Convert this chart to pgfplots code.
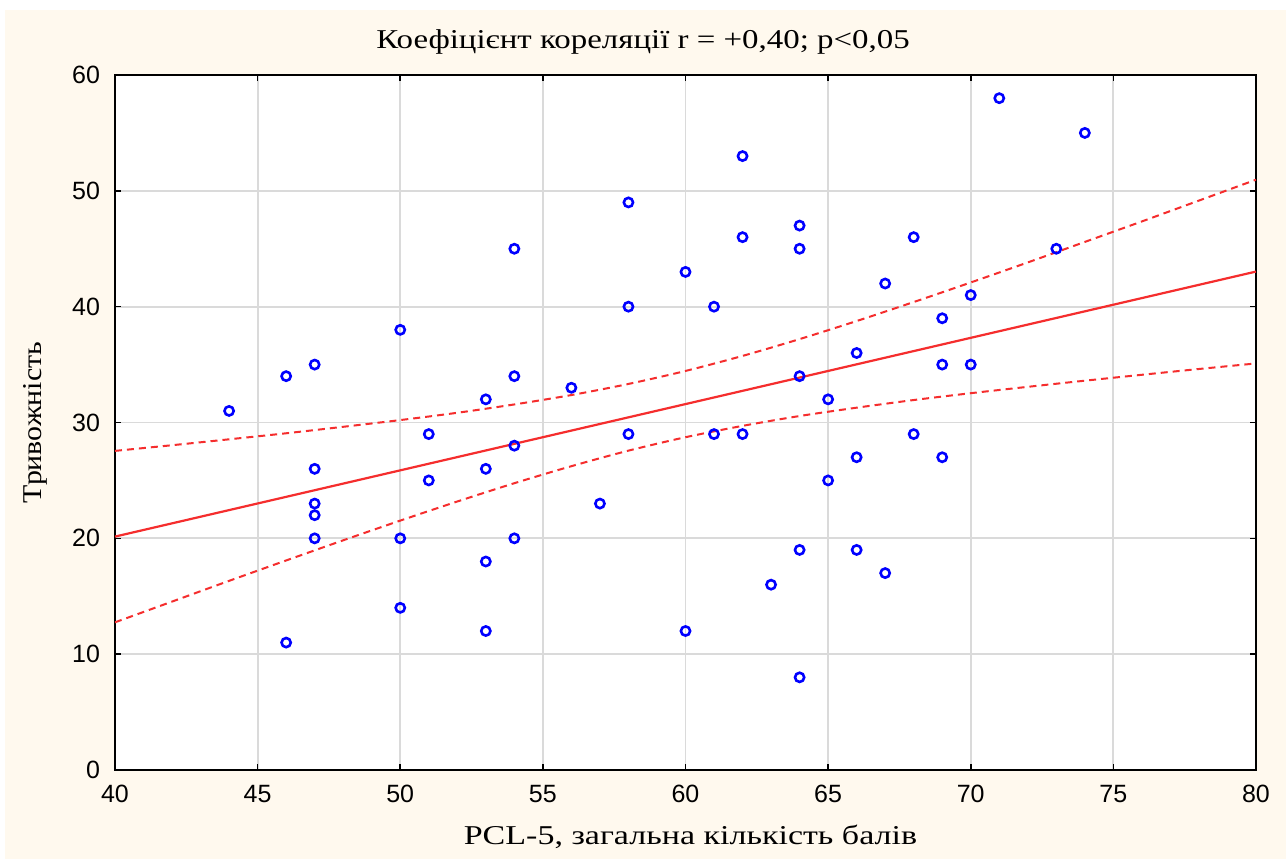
\documentclass[border=0pt]{standalone}
\usepackage{fontspec}
\setmainfont{Liberation Serif}
\setsansfont{Liberation Sans}
\usepackage{graphicx}
\usepackage{pgfplots}
\pgfplotsset{compat=1.18}
\definecolor{cream}{RGB}{255,249,238}
\definecolor{fitred}{RGB}{245,45,45}
\definecolor{gridgray}{RGB}{218,218,218}

\begin{document}
\begin{tikzpicture}
\fill[white] (-57.5pt,-44.5pt) rectangle (585.5pt,385pt);
\fill[cream] (-55pt,-44.5pt) rectangle (585.5pt,380pt);
\useasboundingbox (-57.5pt,-44.5pt) rectangle (585.5pt,385pt);
\begin{axis}[
    at={(0,0)}, anchor=south west,
    scale only axis,
    width=570.5pt, height=347.5pt,
    xmin=40, xmax=80,
    ymin=0, ymax=60,
    xtick={40,45,...,80},
    ytick={0,10,...,60},
    grid=major,
    major grid style={gridgray, line width=0.9pt},
    axis line style={line width=1pt},
    tick style={black, line width=0.8pt},
    major tick length=3pt,
    tick align=inside,
    axis background/.style={fill=white},
    ticklabel style={font=\sffamily\fontsize{12.5}{14}\selectfont},
    /pgf/number format/assume math mode=true,
    xticklabel style={anchor=north, yshift=-4pt},
    yticklabel style={anchor=east, xshift=-4pt},
    clip mode=individual,
]

% confidence band, upper
\addplot[fitred, line width=1pt, dash pattern=on 3.5pt off 2.5pt, smooth] coordinates {
    (40,27.55)(42,28.04)(44,28.55)(46,29.07)(48,29.63)(50,30.21)(52,30.84)
    (54,31.56)(56,32.37)(58,33.33)(60,34.45)(62,35.75)(64,37.20)(66,38.76)
    (68,40.40)(70,42.09)(72,43.82)(74,45.59)(76,47.36)(78,49.16)(80,50.96)
};
% confidence band, lower
\addplot[fitred, line width=1pt, dash pattern=on 3.5pt off 2.5pt, smooth] coordinates {
    (40,12.75)(42,14.54)(44,16.33)(46,18.09)(48,19.83)(50,21.53)(52,23.18)
    (54,24.76)(56,26.23)(58,27.57)(60,28.73)(62,29.71)(64,30.56)(66,31.28)
    (68,31.94)(70,32.53)(72,33.08)(74,33.61)(76,34.12)(78,34.62)(80,35.10)
};
% regression line
\addplot[fitred, line width=1.1pt] coordinates {(40,20.15)(80,43.03)};

% observations
\addplot[only marks, mark=o, mark size=2.3pt, blue, mark options={line width=1.3pt}] coordinates {
    (44,31)(46,34)(46,11)(47,35)(47,26)(47,23)(47,22)(47,20)
    (50,38)(50,20)(50,14)(51,29)(51,25)
    (53,32)(53,26)(53,18)(53,12)
    (54,45)(54,34)(54,28)(54,20)
    (56,33)(57,23)(58,49)(58,40)(58,29)
    (60,43)(60,12)(61,40)(61,29)
    (62,53)(62,46)(62,29)(63,16)
    (64,47)(64,45)(64,34)(64,19)(64,8)
    (65,32)(65,25)(66,36)(66,27)(66,19)
    (67,42)(67,17)(68,46)(68,29)
    (69,39)(69,35)(69,27)(70,41)(70,35)
    (71,58)(73,45)(74,55)
};

\node[font=\fontsize{13.6}{15}\selectfont] at (rel axis cs:0.4628,1) [yshift=16.5pt] {\scalebox{1.21}[1]{Коефіцієнт кореляції r = +0,40; p<0,05}};
\node[font=\fontsize{13.6}{15}\selectfont] at (rel axis cs:0.5,0) [yshift=-33.5pt, xshift=2.5pt] {\scalebox{1.25}[1]{PCL-5, загальна кількість балів}};
\node[font=\fontsize{13.6}{15}\selectfont, xshift=-40pt, rotate=90] at (rel axis cs:0,0.5) {\scalebox{1.1}[1]{Тривожність}};
\end{axis}
\end{tikzpicture}
\end{document}
